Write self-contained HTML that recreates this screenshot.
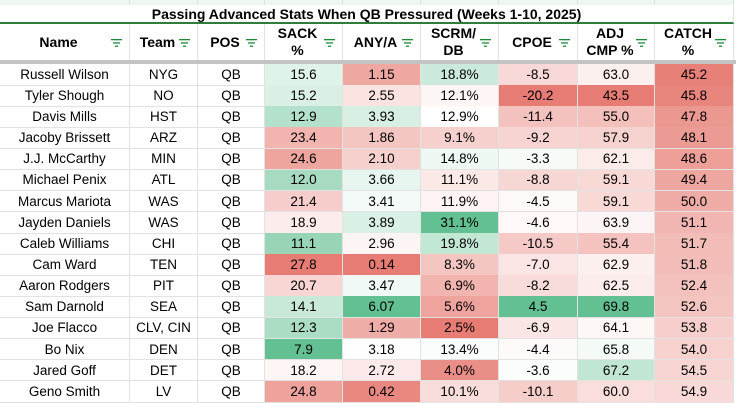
<!DOCTYPE html>
<html><head><meta charset="utf-8"><style>
body{margin:0;width:736px;height:402px;overflow:hidden;background:#fff;font-family:"Liberation Sans",Arial,sans-serif;}
#wrap{position:relative;width:736px;height:402px;}
.c{position:absolute;box-sizing:border-box;display:flex;align-items:center;justify-content:center;font-size:13.5px;color:#000;border-right:1px solid #e2e2e2;border-bottom:1px solid #e2e2e2;}
.h{font-weight:bold;text-align:center;line-height:17px;font-size:14px;}
.f{position:absolute;width:11px;height:8px;}
</style></head><body><div id="wrap"></div>
<script>
const names=["Russell Wilson","Tyler Shough","Davis Mills","Jacoby Brissett","J.J. McCarthy","Michael Penix","Marcus Mariota","Jayden Daniels","Caleb Williams","Cam Ward","Aaron Rodgers","Sam Darnold","Joe Flacco","Bo Nix","Jared Goff","Geno Smith"];
const teams=["NYG","NO","HST","ARZ","MIN","ATL","WAS","WAS","CHI","TEN","PIT","SEA","CLV, CIN","DEN","DET","LV"];
const sackPct=[15.6,15.2,12.9,23.4,24.6,12.0,21.4,18.9,11.1,27.8,20.7,14.1,12.3,7.9,18.2,24.8];
const anyA=[1.15,2.55,3.93,1.86,2.10,3.66,3.41,3.89,2.96,0.14,3.47,6.07,1.29,3.18,2.72,0.42];
const scrmDb=[18.8,12.1,12.9,9.1,14.8,11.1,11.9,31.1,19.8,8.3,6.9,5.6,2.5,13.4,4.0,10.1];
const cpoe=[-8.5,-20.2,-11.4,-9.2,-3.3,-8.8,-4.5,-4.6,-10.5,-7.0,-8.2,4.5,-6.9,-4.4,-3.6,-10.1];
const adjCmp=[63.0,43.5,55.0,57.9,62.1,59.1,59.1,63.9,55.4,62.9,62.5,69.8,64.1,65.8,67.2,60.0];
const catchPct=[45.2,45.8,47.8,48.1,48.6,49.4,50.0,51.1,51.7,51.8,52.4,52.6,53.8,54.0,54.5,54.9];

const W=document.getElementById('wrap');
const xs=[0,130,198,265,343,421,499,578,655,734];
const heads=["Name","Team","POS","SACK<br>%","ANY/A","SCRM/<br>DB","CPOE","ADJ<br>CMP %","CATCH<br>%"];
const hnames=["name","team","pos","sack-pct","any-a","scrm-db","cpoe","adj-cmp","catch-pct"];
const G=[99,192,146],R=[230,124,115];
function mix(a,t){return 'rgb('+a.map(v=>Math.round(255+(v-255)*t)).join(',')+')';}
function color(v,min,mid,max,lowGood){
  let good,t;
  if(v>=mid){t=Math.min(1,(v-mid)/(max-mid));good=!lowGood;}else{t=Math.min(1,(mid-v)/(mid-min));good=lowGood;}
  return mix(good?G:R,t);
}
for(let i=0;i<9;i++){const d=document.createElement('div');d.className='c';d.style.cssText=`left:${xs[i]}px;top:0;width:${xs[i+1]-xs[i]}px;height:5px;background:#eef7f0;border-bottom:none`;W.appendChild(d);}
const t=document.createElement('div');t.className='c';t.style.cssText='left:0;top:5px;width:734px;height:19px;font-weight:bold;font-size:14px;border-bottom:2px solid #2f7d3a';t.textContent='Passing Advanced Stats When QB Pressured (Weeks 1-10, 2025)';
W.appendChild(t);
for(let i=0;i<9;i++){
  const d=document.createElement('div');d.className='c h';
  d.style.cssText=`left:${xs[i]}px;top:24px;width:${xs[i+1]-xs[i]}px;height:37px;padding-right:12px;padding-left:0px;`;
  d.innerHTML=heads[i];
  
  
  W.appendChild(d);
  const f=document.createElementNS('http://www.w3.org/2000/svg','svg');
  f.setAttribute('class','f');f.style.left=(xs[i+1]-19)+'px';f.style.top='39px';
  f.innerHTML='<rect x="0" y="0" width="11" height="1.3" fill="#1e8a3a"/><rect x="2" y="3.3" width="7" height="1.3" fill="#1e8a3a"/><rect x="4" y="6.6" width="3" height="1.3" fill="#1e8a3a"/>';
  
  
  W.appendChild(f);
}
const sep=document.createElement('div');sep.style.cssText='position:absolute;left:0;top:60px;width:736px;height:4px;background:#c4c4c4';
W.appendChild(sep);
const rh=21.13,y0=64;
const cols=[
 {v:sackPct,f:x=>x.toFixed(1),min:7.9,mid:17.5,max:27.8,low:true},
 {v:anyA,f:x=>x.toFixed(2),min:0.14,mid:3.2,max:6.07,low:false},
 {v:scrmDb,f:x=>x.toFixed(1)+'%',min:2.5,mid:12.8,max:31.1,low:false},
 {v:cpoe,f:x=>x.toFixed(1),min:-20.2,mid:-3.8,max:4.5,low:false},
 {v:adjCmp,f:x=>x.toFixed(1),min:43.5,mid:65.5,max:69.8,low:false},
 {v:catchPct,f:x=>x.toFixed(1),min:44.8,mid:59,max:70,low:false}];
for(let r=0;r<names.length;r++){
  const top=y0+r*rh;
  const texts=[names[r],teams[r],'QB'];
  for(let i=0;i<9;i++){
    const d=document.createElement('div');d.className='c';
    d.style.cssText=`left:${xs[i]}px;top:${top}px;width:${xs[i+1]-xs[i]}px;height:${rh+0.5}px;`;
    if(i<3){d.textContent=texts[i];}
    else{const c=cols[i-3];const v=c.v[r];d.textContent=c.f(v);d.style.background=color(v,c.min,c.mid,c.max,c.low);}
    
    
    W.appendChild(d);
  }
}
</script></body></html>
